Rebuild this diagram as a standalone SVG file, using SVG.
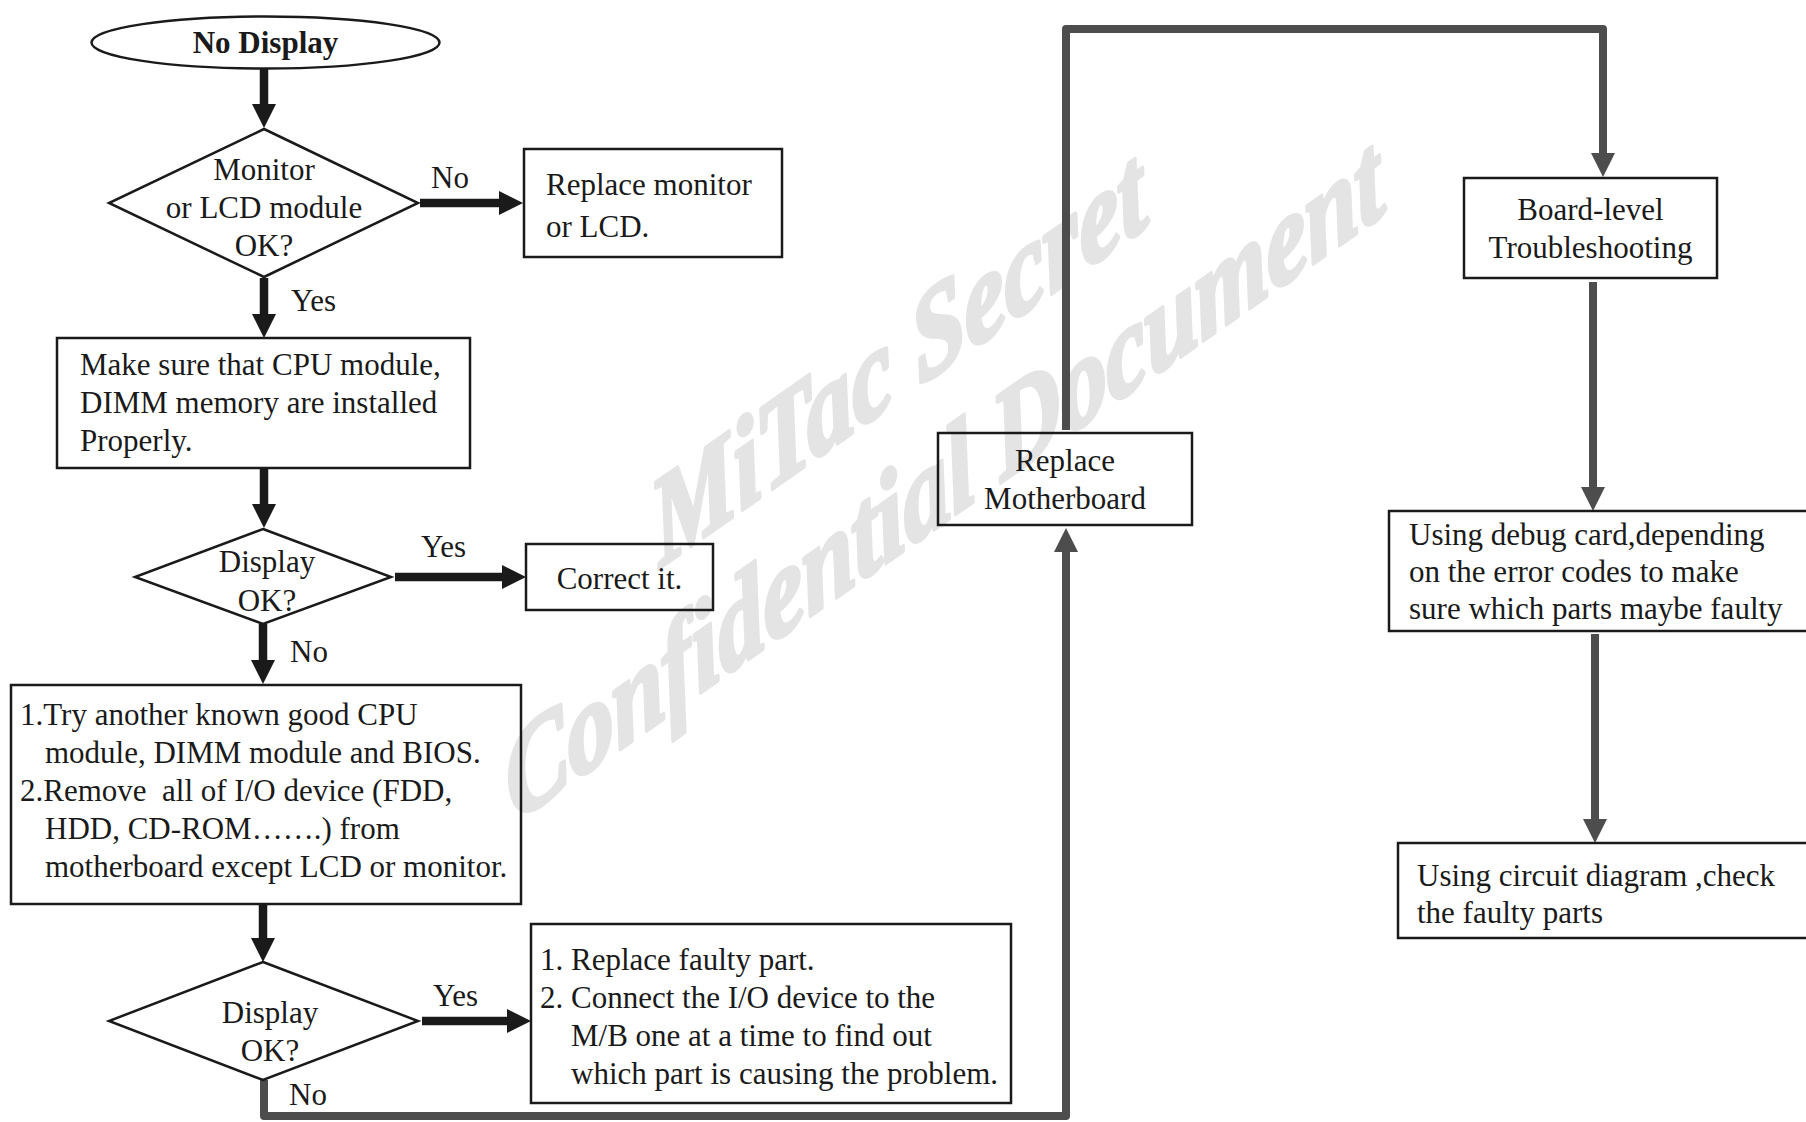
<svg xmlns="http://www.w3.org/2000/svg" width="1806" height="1122" viewBox="0 0 1806 1122">
<style>
  .t { font-family: "Liberation Serif", "Times New Roman", serif; font-size: 31px; fill: #1a1a1a; }
  .c { text-anchor: middle; }
  .b { font-weight: bold; }
  .shape { fill: none; stroke: #1a1a1a; stroke-width: 2.5; }
  .blk { fill: none; stroke: #1a1a1a; stroke-width: 8.5; marker-end: url(#ahb); }
  .gry { fill: none; stroke: #4d4d4d; stroke-width: 8; stroke-linejoin: round; }
  .wm { font-family: "Liberation Serif", "Times New Roman", serif; font-size: 110px; font-weight: bold; font-style: italic; fill: #e4e4e4; stroke: #e4e4e4; stroke-width: 4; stroke-linejoin: round; text-anchor: middle; }
</style>
<defs>
  <marker id="ahb" viewBox="0 0 24 24" refX="0" refY="12" markerWidth="24" markerHeight="24" markerUnits="userSpaceOnUse" orient="auto">
    <path d="M0,0 L24,12 L0,24 z" fill="#1a1a1a"/>
  </marker>
  <marker id="ahg" viewBox="0 0 24 24" refX="0" refY="12" markerWidth="24" markerHeight="24" markerUnits="userSpaceOnUse" orient="auto">
    <path d="M0,0 L24,12 L0,24 z" fill="#4d4d4d"/>
  </marker>
</defs>
<rect width="1806" height="1122" fill="#ffffff"/>

<g id="watermark">
  <text class="wm" transform="translate(905,396) rotate(-35) skewX(-25)">MiTac Secret</text>
  <text class="wm" transform="translate(950,518) rotate(-35) skewX(-25)">Confidential Document</text>
</g>

<g id="connectors">
  <line class="blk" x1="264" y1="68" x2="264" y2="104"/>
  <line class="blk" x1="420" y1="203" x2="499" y2="203"/>
  <line class="blk" x1="264" y1="278" x2="264" y2="314"/>
  <line class="blk" x1="264" y1="468" x2="264" y2="504"/>
  <line class="blk" x1="395" y1="577" x2="502" y2="577"/>
  <line class="blk" x1="263" y1="624" x2="263" y2="660"/>
  <line class="blk" x1="263" y1="904" x2="263" y2="938"/>
  <line class="blk" x1="422" y1="1021" x2="507" y2="1021"/>
  <path class="gry" d="M264,1080 V1116 H1066 V552" marker-end="url(#ahg)"/>
  <path class="gry" d="M1066,430 V29 H1603 V153" marker-end="url(#ahg)"/>
  <path class="gry" d="M1593,282 V487" marker-end="url(#ahg)"/>
  <path class="gry" d="M1595,634 V819" marker-end="url(#ahg)"/>
  <text class="t" x="431" y="188">No</text>
  <text class="t" x="291" y="311">Yes</text>
  <text class="t" x="421" y="557">Yes</text>
  <text class="t" x="290" y="662">No</text>
  <text class="t" x="433" y="1006">Yes</text>
  <text class="t" x="289" y="1105">No</text>
</g>

<g id="start">
  <ellipse class="shape" cx="265.5" cy="42.5" rx="174" ry="26"/>
  <text class="t c b" x="265.5" y="53">No Display</text>
</g>

<g id="dec1">
  <polygon class="shape" points="264,129 418,203 264,277 109,203"/>
  <text class="t c" x="264" y="180">Monitor</text>
  <text class="t c" x="264" y="218">or LCD module</text>
  <text class="t c" x="264" y="256">OK?</text>
</g>

<g id="replaceMonitor">
  <rect class="shape" x="524" y="149" width="258" height="108"/>
  <text class="t" x="546" y="195">Replace monitor</text>
  <text class="t" x="546" y="237">or LCD.</text>
</g>

<g id="makeSure">
  <rect class="shape" x="57" y="338" width="413" height="130"/>
  <text class="t" x="80" y="375">Make sure that CPU module,</text>
  <text class="t" x="80" y="413">DIMM memory are installed</text>
  <text class="t" x="80" y="451">Properly.</text>
</g>

<g id="dec2">
  <polygon class="shape" points="263,529 391,577 263,624 135,577"/>
  <text class="t c" x="267" y="572">Display</text>
  <text class="t c" x="267" y="611">OK?</text>
</g>

<g id="correct">
  <rect class="shape" x="526" y="544" width="187" height="66"/>
  <text class="t c" x="619.5" y="589">Correct it.</text>
</g>

<g id="tryAnother">
  <rect class="shape" x="11" y="685" width="510" height="219"/>
  <text class="t" x="20" y="725">1.Try another known good CPU</text>
  <text class="t" x="45" y="763">module, DIMM module and BIOS.</text>
  <text class="t" x="20" y="801">2.Remove&#160; all of I/O device (FDD,</text>
  <text class="t" x="45" y="839">HDD, CD-ROM…….) from</text>
  <text class="t" x="45" y="877">motherboard except LCD or monitor.</text>
</g>

<g id="dec3">
  <polygon class="shape" points="263,962 418,1021 263,1080 109,1021"/>
  <text class="t c" x="270" y="1023">Display</text>
  <text class="t c" x="270" y="1061">OK?</text>
</g>

<g id="replaceFaulty">
  <rect class="shape" x="531" y="924" width="480" height="179"/>
  <text class="t" x="540" y="970">1. Replace faulty part.</text>
  <text class="t" x="540" y="1008">2. Connect the I/O device to the</text>
  <text class="t" x="571" y="1046">M/B one at a time to find out</text>
  <text class="t" x="571" y="1084">which part is causing the problem.</text>
</g>

<g id="replaceMB">
  <rect class="shape" x="938" y="433" width="254" height="92"/>
  <text class="t c" x="1065" y="471">Replace</text>
  <text class="t c" x="1065" y="509">Motherboard</text>
</g>

<g id="boardLevel">
  <rect class="shape" x="1464" y="178" width="253" height="100"/>
  <text class="t c" x="1590.5" y="220">Board-level</text>
  <text class="t c" x="1590.5" y="258">Troubleshooting</text>
</g>

<g id="debugCard">
  <rect class="shape" x="1389" y="511" width="440" height="120"/>
  <text class="t" x="1409" y="545">Using debug card,depending</text>
  <text class="t" x="1409" y="582">on the error codes to make</text>
  <text class="t" x="1409" y="619">sure which parts maybe faulty</text>
</g>

<g id="circuit">
  <rect class="shape" x="1398" y="843" width="440" height="95"/>
  <text class="t" x="1417" y="886">Using circuit diagram ,check</text>
  <text class="t" x="1417" y="923">the faulty parts</text>
</g>
</svg>
